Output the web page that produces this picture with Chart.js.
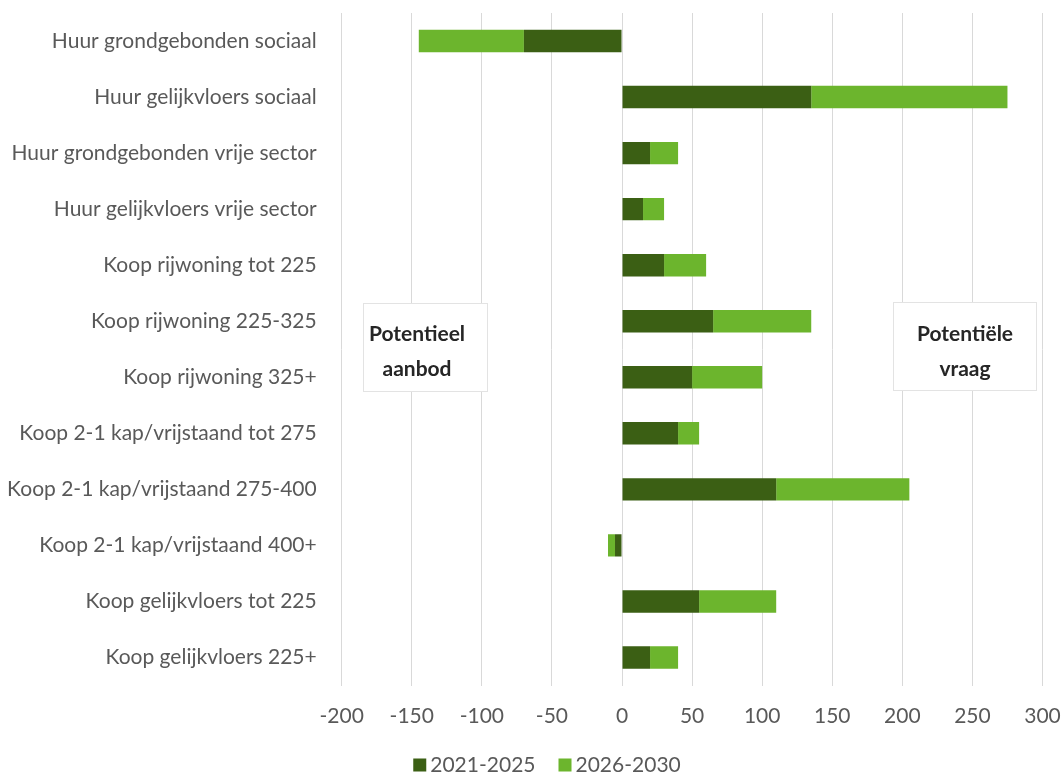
<!DOCTYPE html>
<html>
<head>
<meta charset="utf-8">
<script src="https://cdn.jsdelivr.net/npm/chart.js@4.4.1/dist/chart.umd.min.js"></script>
<style>
  html, body { margin: 0; padding: 0; background: #ffffff; }
  #wrap { width: 1063px; height: 774px; }
</style>
</head>
<body>
<div id="wrap"><canvas id="c" width="1063" height="774"></canvas></div>
<script>
// ---- data ----
const categories = [
  'Huur grondgebonden sociaal',
  'Huur gelijkvloers sociaal',
  'Huur grondgebonden vrije sector',
  'Huur gelijkvloers vrije sector',
  'Koop rijwoning tot 225',
  'Koop rijwoning 225-325',
  'Koop rijwoning 325+',
  'Koop 2-1 kap/vrijstaand tot 275',
  'Koop 2-1 kap/vrijstaand 275-400',
  'Koop 2-1 kap/vrijstaand 400+',
  'Koop gelijkvloers tot 225',
  'Koop gelijkvloers 225+'
];
const seriesNames = ['2021-2025', '2026-2030'];
const values2021_2025 = [-70, 135, 20, 15, 30, 65, 50, 40, 110, -5, 55, 20];
const values2026_2030 = [-75, 140, 20, 15, 30, 70, 50, 15, 95, -5, 55, 20];
const xTickValues = [-200, -150, -100, -50, 0, 50, 100, 150, 200, 250, 300];
const noteLeft = ['Potentieel', 'aanbod'];
const noteRight = ['Potentiële', 'vraag'];

// ---- styles ----
const DARK = '#3b5f14';
const LIGHT = '#6cb52d';
const TEXT = '#595959';
const GRID = '#d9d9d9';
const FONT = 'Lato, "Open Sans", sans-serif';

const notesPlugin = {
  id: 'notes',
  afterDraw(chart) {
    const ctx = chart.ctx;
    const boxes = [
      { x: 363, y: 303, w: 125, h: 89, cx: 417, lines: noteLeft },
      { x: 893, y: 302, w: 144, h: 89, cx: 965, lines: noteRight }
    ];
    ctx.save();
    boxes.forEach(b => {
      ctx.fillStyle = '#ffffff';
      ctx.fillRect(b.x, b.y, b.w, b.h);
      ctx.strokeStyle = '#e3e3e3';
      ctx.lineWidth = 1;
      ctx.strokeRect(b.x + 0.5, b.y + 0.5, b.w - 1, b.h - 1);
      ctx.fillStyle = '#262626';
      ctx.font = 'bold 21px ' + FONT;
      ctx.textAlign = 'center';
      ctx.textBaseline = 'middle';
      ctx.fillText(b.lines[0], b.cx, 334);
      ctx.fillText(b.lines[1], b.cx, 369);
    });
    // legend
    const ds = chart.data.datasets;
    ctx.font = '21px ' + FONT;
    ctx.textBaseline = 'middle';
    ctx.textAlign = 'left';
    const box = 13, gap = 4, spacing = 23;
    const widths = ds.map(d => box + gap + ctx.measureText(d.label).width);
    const total = widths.reduce((a, b) => a + b, 0) + spacing * (ds.length - 1);
    let x = 547 - total / 2;
    const cy = 765;
    ds.forEach((d, i) => {
      ctx.fillStyle = d.backgroundColor;
      ctx.fillRect(x, cy - box / 2, box, box);
      ctx.fillStyle = TEXT;
      ctx.fillText(d.label, x + box + gap, cy);
      x += widths[i] + spacing;
    });
    ctx.restore();
  }
};

new Chart(document.getElementById('c'), {
  type: 'bar',
  data: {
    labels: categories,
    datasets: [
      { label: seriesNames[0], data: values2021_2025, backgroundColor: DARK, borderWidth: 0 },
      { label: seriesNames[1], data: values2026_2030, backgroundColor: LIGHT, borderWidth: 0 }
    ]
  },
  options: {
    indexAxis: 'y',
    responsive: false,
    devicePixelRatio: 1,
    animation: false,
    barPercentage: 0.4,
    categoryPercentage: 1,
    layout: { padding: { top: 13, right: 20.5, bottom: 41, left: 0 } },
    plugins: {
      legend: { display: false },
      tooltip: { enabled: false }
    },
    scales: {
      x: {
        stacked: true,
        min: -200,
        max: 300,
        afterBuildTicks(scale) { scale.ticks = xTickValues.map(v => ({ value: v })); },
        afterFit(scale) {
          scale.height = 47.5;
          scale.paddingLeft = 0; scale.paddingRight = 0;
          scale.paddingTop = 0; scale.paddingBottom = 0;
        },
        grid: { color: GRID, lineWidth: 1, drawTicks: false },
        border: { display: false },
        ticks: { color: TEXT, font: { family: FONT, size: 21 }, padding: 18 }
      },
      y: {
        stacked: true,
        afterFit(scale) {
          scale.width = 341.7;
          scale.paddingLeft = 0; scale.paddingRight = 0;
          scale.paddingTop = 0; scale.paddingBottom = 0;
        },
        grid: { display: false, drawTicks: false },
        border: { display: false },
        ticks: { color: TEXT, font: { family: FONT, size: 21 }, padding: 25 }
      }
    }
  },
  plugins: [notesPlugin]
});
</script>
</body>
</html>
